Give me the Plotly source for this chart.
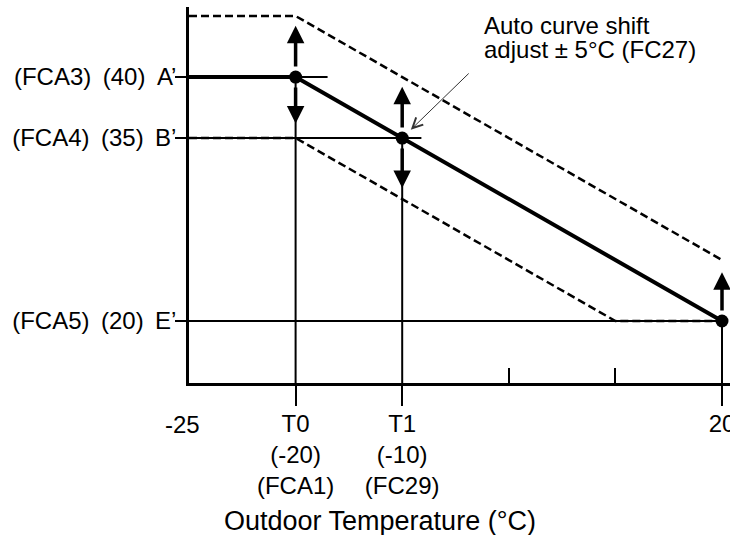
import plotly.graph_objects as go

# x axis is schematic: the temperature stops sit at evenly spaced positions
x_labels = ["-25", "T0<br>(-20)<br>(FCA1)", "T1<br>(-10)<br>(FC29)", "0", "10", "20"]
x_pos = list(range(len(x_labels)))

y_levels = [40, 35, 20]
y_labels = ["(FCA3) (40) A’", "(FCA4) (35) B’", "(FCA5) (20) E’"]

# heating curve and the +/- 5 shifted curves
curve_x = [0, 1, 5]
curve_y = [40, 40, 20]
upper_x = [0, 1, 5]
upper_y = [45, 45, 25]
lower_x = [0, 1, 4, 5]
lower_y = [35, 35, 20, 20]

# set points and how far the shift arrows reach
point_x = [1, 2, 5]
point_y = [40, 35, 20]
arrow_up = [4.2, 4.2, 4.0]
arrow_down = [3.8, 4.1, 0]

# horizontal guides from the y axis
guide_y = [40, 35, 20]
guide_end = [1.3, 2.18, 5]

y_range = [14.92, 45.74]
x_range = [0, 5.075]
FONT = "Liberation Sans, Arial, sans-serif"

fig = go.Figure()

for gy, ge in zip(guide_y, guide_end):
    fig.add_trace(go.Scatter(x=[0, ge], y=[gy, gy], mode="lines",
                             line=dict(color="black", width=2), hoverinfo="skip"))

for px, py in zip(point_x, point_y):
    fig.add_trace(go.Scatter(x=[px, px], y=[y_range[0], py], mode="lines",
                             line=dict(color="black", width=2), hoverinfo="skip"))

for xs, ys in [(upper_x, upper_y), (lower_x, lower_y)]:
    fig.add_trace(go.Scatter(x=xs, y=ys, mode="lines",
                             line=dict(color="black", width=2.5, dash="8px,4px"),
                             hoverinfo="skip"))

fig.add_trace(go.Scatter(x=curve_x, y=curve_y, mode="lines",
                         line=dict(color="black", width=4), hoverinfo="skip"))

fig.add_trace(go.Scatter(x=point_x, y=point_y, mode="markers",
                         marker=dict(color="black", size=13), hoverinfo="skip",
                         cliponaxis=False))

# dummy trace so the -25 axis exists
fig.add_trace(go.Scatter(x=[0], y=[y_range[0]], xaxis="x2", mode="markers",
                         marker=dict(opacity=0), hoverinfo="skip"))

# shift arrows
for px, py, up, dn in zip(point_x, point_y, arrow_up, arrow_down):
    for d in ([up, -dn] if dn else [up]):
        fig.add_annotation(x=px, y=py + d, ax=px, ay=py, xref="x", yref="y",
                           axref="x", ayref="y", text="", showarrow=True,
                           arrowhead=2, arrowsize=1.0, arrowwidth=3.5,
                           arrowcolor="black", startstandoff=9)

# pointer to the curve
fig.add_annotation(x=point_x[1], y=point_y[1], ax=68, ay=-66, text="",
                   showarrow=True, arrowhead=5, arrowsize=2, arrowwidth=1,
                   arrowcolor="#333333", standoff=12)
fig.add_annotation(x=0.5416, y=0.952, xref="paper", yref="paper",
                   text="Auto curve shift", showarrow=False,
                   xanchor="left", yanchor="middle")
fig.add_annotation(x=0.5416, y=0.886, xref="paper", yref="paper",
                   text="adjust ± 5°C (FC27)", showarrow=False,
                   xanchor="left", yanchor="middle")

fig.add_annotation(x=0.353, y=-0.367, xref="paper", yref="paper",
                   text="Outdoor Temperature (°C)", showarrow=False,
                   font=dict(size=27), xanchor="center", yanchor="middle")

fig.update_layout(
    width=730,
    height=535,
    margin=dict(l=189, r=0, t=7, b=152),
    paper_bgcolor="white",
    plot_bgcolor="white",
    showlegend=False,
    font=dict(family=FONT, size=24, color="black"),
    xaxis=dict(
        range=x_range,
        tickmode="array",
        tickvals=[x_pos[1], x_pos[2], x_pos[5]],
        ticktext=[x_labels[1], x_labels[2], x_labels[5]],
        ticks="outside", ticklen=20, tickwidth=2, tickcolor="black",
        ticklabelstandoff=-3,
        ticklabeloverflow="allow",
        minor=dict(tickmode="array", tickvals=[x_pos[3], x_pos[4]],
                   ticks="inside", ticklen=15, tickwidth=2, tickcolor="black"),
        showline=True, linewidth=2.5, linecolor="black",
        showgrid=False, zeroline=False, automargin=False, fixedrange=True,
    ),
    xaxis2=dict(
        overlaying="x", anchor="y", side="bottom", range=x_range,
        tickmode="array", tickvals=[x_pos[0]],
        ticktext=[x_labels[0] + "\u00a0\u00a0"],
        ticks="", ticklabelstandoff=25,
        ticklabeloverflow="allow",
        showline=False, showgrid=False, zeroline=False, automargin=False,
    ),
    yaxis=dict(
        range=y_range,
        tickmode="array",
        tickvals=y_levels,
        ticktext=[t.replace(" ", " \u2009") for t in y_labels],
        ticks="outside", ticklen=11, tickwidth=2, tickcolor="black",
        ticklabelstandoff=-6,
        showline=True, linewidth=2.5, linecolor="black",
        showgrid=False, zeroline=False, automargin=False, fixedrange=True,
    ),
)

# drop the default body margin so the 730x535 figure fills the window
fig.write_html(
    "out.html",
    config={"displayModeBar": False},
    post_script="document.body.style.margin='0';document.body.style.overflow='hidden';",
)
